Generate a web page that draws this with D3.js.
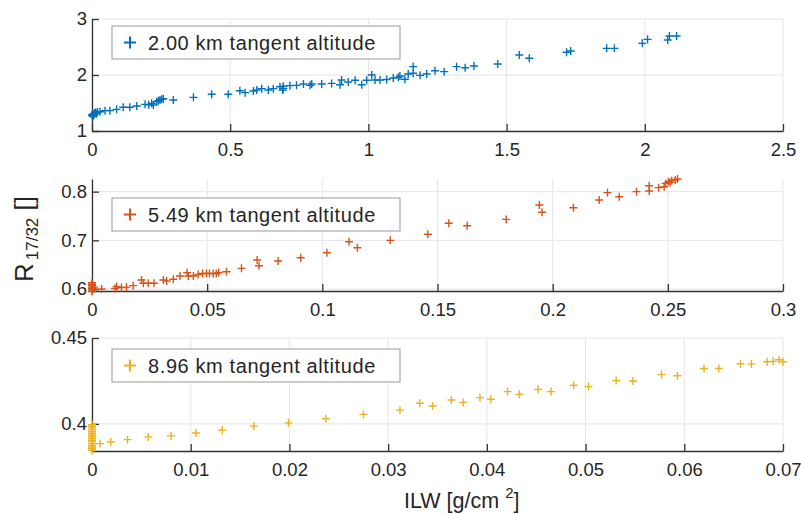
<!DOCTYPE html>
<html>
<head>
<meta charset="utf-8">
<script src="https://cdn.jsdelivr.net/npm/d3@7"></script>
<style>
  body { margin: 0; background: #fff; }
  text { font-family: "Liberation Sans", Arial, Helvetica, sans-serif; fill: #262626; }
</style>
</head>
<body>
<div id="plot"></div>
<script>
// ---- data: [ILW, R17/32] ----
const alt200 = [
  [0,1.28],[0.002,1.29],[0.003,1.26],[0.004,1.30],[0.006,1.28],[0.008,1.31],[0.01,1.32],[0.013,1.33],
  [0.016,1.31],[0.02,1.34],[0.029,1.345],[0.047,1.363],[0.065,1.363],[0.089,1.387],[0.113,1.423],
  [0.137,1.423],[0.162,1.446],[0.192,1.476],[0.205,1.47],[0.216,1.494],[0.222,1.464],[0.234,1.524],
  [0.24,1.54],[0.246,1.554],[0.252,1.565],[0.258,1.577],[0.294,1.554],[0.367,1.601],[0.433,1.655],
  [0.493,1.655],[0.535,1.72],[0.554,1.685],[0.584,1.714],[0.596,1.732],[0.614,1.756],[0.638,1.732],
  [0.656,1.756],[0.68,1.79],[0.69,1.73],[0.692,1.76],[0.692,1.80],[0.716,1.81],[0.74,1.815],
  [0.765,1.84],[0.789,1.815],[0.795,1.84],[0.831,1.84],[0.867,1.85],[0.897,1.827],[0.903,1.91],
  [0.927,1.875],[0.952,1.905],[0.976,1.827],[0.994,1.905],[1.012,2.0],[1.024,1.91],[1.042,1.91],
  [1.066,1.92],[1.09,1.946],[1.108,1.958],[1.114,1.982],[1.132,1.923],[1.144,2.018],[1.162,2.03],
  [1.162,2.15],[1.187,1.994],[1.211,2.018],[1.241,2.077],[1.274,2.06],[1.319,2.149],[1.35,2.13],
  [1.382,2.161],[1.468,2.196],[1.546,2.357],[1.582,2.298],[1.717,2.405],[1.732,2.429],[1.862,2.476],
  [1.89,2.476],[1.991,2.565],[2.01,2.637],[2.083,2.625],[2.089,2.696],[2.115,2.696]
];
const alt549 = [
  [0,0.595],[0,0.598],[0,0.601],[0,0.604],[0,0.607],[0,0.61],[0,0.613],[0.0005,0.6],[0.001,0.604],
  [0.0042,0.6],[0.010,0.601],[0.0107,0.605],[0.0128,0.603],[0.015,0.604],[0.0179,0.607],[0.0215,0.6185],
  [0.0223,0.612],[0.0244,0.612],[0.0269,0.612],[0.031,0.6185],[0.0324,0.6165],[0.0353,0.62],
  [0.0382,0.6267],[0.0413,0.6335],[0.0418,0.6267],[0.044,0.6267],[0.0461,0.63],[0.048,0.632],
  [0.0497,0.632],[0.051,0.632],[0.0526,0.632],[0.054,0.632],[0.055,0.634],[0.0584,0.6356],
  [0.0649,0.6425],[0.0717,0.6596],[0.0725,0.648],[0.0808,0.6575],[0.0906,0.6644],[0.102,0.6747],
  [0.1116,0.6972],[0.1152,0.6849],[0.1295,0.70],[0.1458,0.7124],[0.1549,0.735],[0.1629,0.730],
  [0.1798,0.743],[0.1942,0.7726],[0.1954,0.7576],[0.209,0.767],[0.2202,0.7829],[0.2238,0.798],
  [0.2289,0.7897],[0.2364,0.80],[0.2419,0.8122],[0.2419,0.8014],[0.246,0.8082],[0.2484,0.81],
  [0.2491,0.817],[0.2503,0.8205],[0.251,0.819],[0.2517,0.8226],[0.2532,0.824],[0.2542,0.826]
];
const alt896 = [
  [0,0.3845],[0,0.3855],[0,0.3865],[0,0.3875],[0,0.3885],[0,0.3895],[0,0.3905],[0,0.3915],
  [0,0.3925],[0,0.3935],[0,0.3945],[0,0.3955],[0,0.3965],[0,0.3975],[0,0.3985],[0,0.3995],
  [0.00081,0.3885],[0.0019,0.3894],[0.0036,0.3908],[0.0057,0.3924],[0.008,0.393],[0.01053,0.3947],
  [0.0132,0.3963],[0.0164,0.3987],[0.0199,0.4006],[0.0237,0.403],[0.0275,0.4055],[0.0312,0.408],
  [0.0332,0.412],[0.0345,0.4104],[0.0364,0.4139],[0.0376,0.4125],[0.0393,0.4153],[0.0404,0.4143],
  [0.0421,0.4188],[0.0433,0.4172],[0.0452,0.4201],[0.0465,0.4188],[0.0488,0.4225],[0.0503,0.4217],
  [0.0531,0.4252],[0.0548,0.425],[0.0577,0.4287],[0.0593,0.428],[0.062,0.4322],[0.0635,0.4322],
  [0.0657,0.435],[0.0668,0.4348],[0.0684,0.4362],[0.069,0.4364],[0.0696,0.4373],[0.070,0.4362]
];

const labels = ["2.00 km tangent altitude", "5.49 km tangent altitude", "8.96 km tangent altitude"];
const xTicks1 = [0, 0.5, 1, 1.5, 2, 2.5];
const yTicks1 = [1, 2, 3];
const xTicks2 = [0, 0.05, 0.1, 0.15, 0.2, 0.25, 0.3];
const yTicks2 = [0.6, 0.7, 0.8];
const xTicks3 = [0, 0.01, 0.02, 0.03, 0.04, 0.05, 0.06, 0.07];
const yTicks3 = [0.4, 0.45];

// ---- layout ----
const W = 801, H = 514;
const left = 92, right = 783;

const panels = [
  {data: alt200, label: labels[0], color: "#0072BD", xDom: [0, 2.5], yDom: [1, 3],
   xt: xTicks1, yt: yTicks1, top: 19, bottom: 131, legY: 26},
  {data: alt549, label: labels[1], color: "#D95319", xDom: [0, 0.3], yDom: [0.596, 0.826],
   xt: xTicks2, yt: yTicks2, top: 179, bottom: 291, legY: 198},
  {data: alt896, label: labels[2], color: "#EDB120", xDom: [0, 0.07], yDom: [0.3842, 0.45],
   xt: xTicks3, yt: yTicks3, top: 338, bottom: 451, legY: 349}
];

const svg = d3.select("#plot")
  .append("svg")
  .attr("width", W)
  .attr("height", H);

const plus = "M-4,0H4M0,-4V4";

panels.forEach(p => {
  const x = d3.scaleLinear().domain(p.xDom).range([left, right]);
  const y = d3.scaleLinear().domain(p.yDom).range([p.bottom, p.top]);
  const g = svg.append("g");

  // grid
  g.append("g").selectAll("line.gx")
    .data(p.xt).enter().append("line")
    .attr("x1", d => x(d)).attr("x2", d => x(d))
    .attr("y1", p.top).attr("y2", p.bottom)
    .attr("stroke", "#e5e5e5").attr("stroke-width", 1);
  g.append("g").selectAll("line.gy")
    .data(p.yt).enter().append("line")
    .attr("x1", left).attr("x2", right)
    .attr("y1", d => y(d)).attr("y2", d => y(d))
    .attr("stroke", "#e5e5e5").attr("stroke-width", 1);

  // axes (ticks pointing inward like matlab)
  const xa = g.append("g")
    .attr("transform", "translate(0," + p.bottom + ")")
    .call(d3.axisBottom(x).tickValues(p.xt).tickFormat(d => String(d))
      .tickSizeInner(-7).tickSizeOuter(0).tickPadding(12));
  const ya = g.append("g")
    .attr("transform", "translate(" + left + ",0)")
    .call(d3.axisLeft(y).tickValues(p.yt).tickFormat(d => String(d))
      .tickSizeInner(-7).tickSizeOuter(0).tickPadding(5));
  [xa, ya].forEach(a => {
    a.select(".domain").attr("stroke", "#333").attr("stroke-width", 1.3);
    a.selectAll(".tick line").attr("stroke", "#333").attr("stroke-width", 1.3);
    a.selectAll(".tick text").style("font-size", "18.5px").attr("fill", "#262626");
  });

  // markers
  g.append("g").selectAll("path")
    .data(p.data).enter().append("path")
    .attr("transform", d => "translate(" + x(d[0]) + "," + y(d[1]) + ")")
    .attr("d", plus)
    .attr("fill", "none")
    .attr("stroke", p.color)
    .attr("stroke-width", 1.4);

  // legend
  const lg = g.append("g");
  lg.append("rect")
    .attr("x", 112).attr("y", p.legY)
    .attr("width", 288).attr("height", 33)
    .attr("fill", "#fff").attr("stroke", "#999").attr("stroke-width", 1);
  lg.append("path")
    .attr("transform", "translate(130," + (p.legY + 16.5) + ")")
    .attr("d", "M-6,0H6M0,-6V6")
    .attr("stroke", p.color).attr("stroke-width", 2).attr("fill", "none");
  lg.append("text")
    .attr("x", 148).attr("y", p.legY + 23.5)
    .style("font-size", "20px")
    .style("letter-spacing", "0.6px")
    .text(p.label);
});

// y label
const yl = svg.append("text")
  .attr("transform", "translate(33,282) rotate(-90)")
  .style("font-size", "26px");
yl.append("tspan").text("R");
yl.append("tspan").attr("dx", 3).attr("dy", 5).style("font-size", "17px").text("17/32");
yl.append("tspan").attr("dy", -5).text(" []");

// x label
const xl = svg.append("text")
  .attr("x", 404).attr("y", 508)
  .style("font-size", "21.5px");
xl.append("tspan").text("ILW [g/cm ");
xl.append("tspan").attr("dy", -10).style("font-size", "15px").text("2");
xl.append("tspan").attr("dy", 10).text("]");
</script>
</body>
</html>
